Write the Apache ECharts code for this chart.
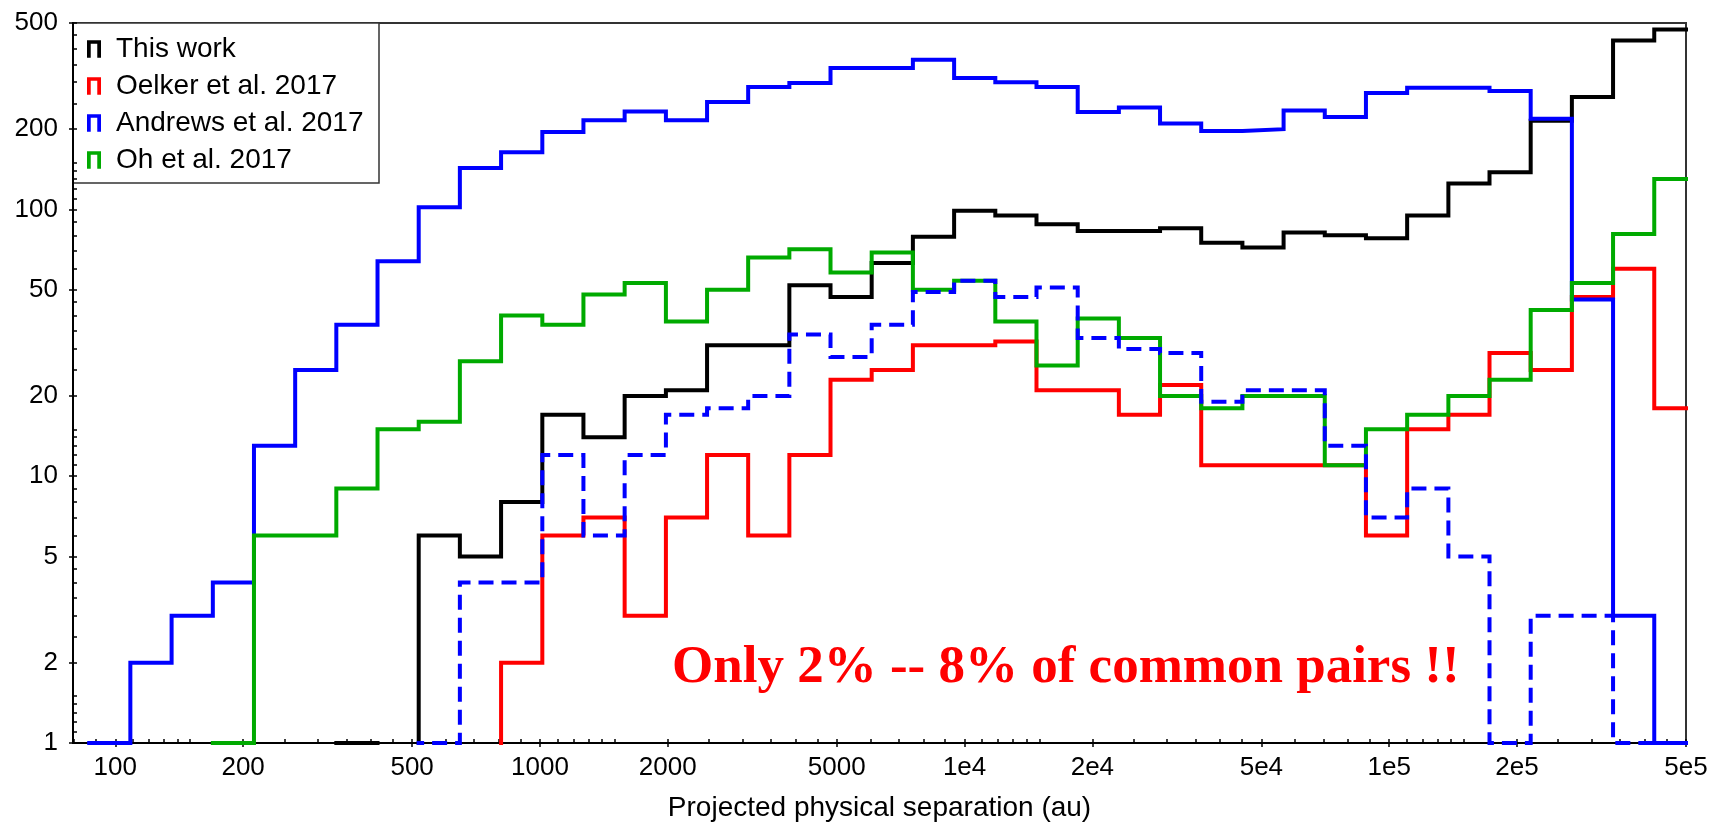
<!DOCTYPE html>
<html>
<head>
<meta charset="utf-8">
<script src="https://cdn.jsdelivr.net/npm/echarts@6/dist/echarts.min.js"></script>
<style>
html,body{margin:0;padding:0;background:#fff}
#chart{width:1713px;height:827px}
</style>
</head>
<body>
<div id="chart"></div>
<script>
// Histogram bin edges (au), log-spaced
const binEdges = [86.8, 108.5, 135.7, 169.7, 212.1, 265.2, 331.5, 414.5, 518.2, 647.8,
  810, 1013, 1266, 1583, 1980, 2475, 3093, 3867, 4834, 6043,
  7556, 9449, 11814, 14770, 18469, 23087, 28863, 36083, 45113, 56403,
  70517, 88153, 110220, 137840, 172280, 215380, 269290, 336660, 420920, 526270];

// Counts per bin
const thisWork = [0,0,0,0,0,0,1,0,6,5,8,17,14,20,21,31,31,52,47,63,79,99,95,88,83,83,85,75,72,82,80,78,95,125,138,215,264,430,473];
const oelker = [0,0,0,0,0,0,0,0,0,0,2,6,7,3,7,12,6,12,23,25,31,31,32,21,21,17,22,11,11,11,11,6,15,17,29,25,47,60,18];
const andrews = [1,2,3,4,13,25,37,64,102,143,164,195,216,233,216,253,288,298,339,339,364,311,300,288,232,241,210,197,200,235,222,273,286,286,278,219,46,3,1];
const oh = [0,0,0,1,6,6,9,15,16,27,40,37,48,53,38,50,66,71,58,69,50,54,38,26,39,33,20,18,20,20,11,15,17,20,23,42,53,81,130];
const andrewsCommon = [0,0,0,0,0,0,0,0,1,4,4,12,6,12,17,18,20,34,28,37,49,54,47,51,33,30,29,19,21,21,13,7,9,5,1,3,3,1,0];

const seriesNames = ['This work', 'Oelker et al. 2017', 'Andrews et al. 2017', 'Oh et al. 2017'];

// Axis ticks and labels
const xMajorTicks = [100, 200, 500, 1000, 2000, 5000, 1e4, 2e4, 5e4, 1e5, 2e5, 5e5];
const xMajorLabels = ['100', '200', '500', '1000', '2000', '5000', '1e4', '2e4', '5e4', '1e5', '2e5', '5e5'];
const xMinorTicks = [80, 90, 110, 120, 130, 140, 150, 250, 300, 350, 400, 450, 600, 700, 800, 900,
  1100, 1200, 1300, 1400, 1500, 2500, 3000, 3500, 4000, 4500, 6000, 7000, 8000, 9000,
  11000, 12000, 13000, 14000, 15000, 25000, 30000, 35000, 40000, 45000, 60000, 70000, 80000, 90000,
  110000, 120000, 130000, 140000, 150000, 250000, 300000, 350000, 400000, 450000];
const yMajorTicks = [1, 2, 5, 10, 20, 50, 100, 200, 500];
const yMajorLabels = ['1', '2', '5', '10', '20', '50', '100', '200', '500'];
const yMinorTicks = [1.1, 1.2, 1.3, 1.4, 1.5, 2.5, 3, 3.5, 4, 4.5, 6, 7, 8, 9,
  11, 12, 13, 14, 15, 25, 30, 35, 40, 45, 60, 70, 80, 90,
  110, 120, 130, 140, 150, 250, 300, 350, 400, 450];

const xTitle = 'Projected physical separation (au)';
const note = 'Only 2% -- 8% of common pairs !!';

const FLOOR = 0.05; // empty bins fall below the axis (clipped)
function stepPoints(counts) {
  const v = c => (c > 0 ? c : FLOOR);
  const pts = [[binEdges[0], FLOOR]];
  counts.forEach((c, i) => {
    pts.push([binEdges[i], v(c)]);
    pts.push([binEdges[i + 1], v(c)]);
  });
  pts.push([binEdges[binEdges.length - 1], FLOOR]);
  return pts;
}
function labelFor(ticks, labels, v) {
  const i = ticks.findIndex(t => Math.abs(Math.log10(t) - Math.log10(v)) < 1e-6);
  return i >= 0 ? labels[i] : '';
}

const FONT = 'Liberation Sans';
const tickStyle = { color: '#000', width: 1.5 };

function mkSeries(name, counts, color, dashed) {
  return {
    name: name,
    type: 'line',
    data: stepPoints(counts),
    symbol: 'none',
    showSymbol: false,
    clip: true,
    color: color,
    itemStyle: { color: color },
    lineStyle: { color: color, width: 4, type: dashed ? [15, 8] : 'solid', cap: 'butt', join: 'miter' },
    emphasis: { disabled: true },
    animation: false
  };
}

const chart = echarts.init(document.getElementById('chart'), null, { renderer: 'canvas' });
chart.setOption({
  animation: false,
  backgroundColor: '#fff',
  grid: { left: 73, right: 27, top: 23, bottom: 82, show: true, borderColor: '#333', borderWidth: 2, containLabel: false },
  xAxis: [
    {
      type: 'log', logBase: 10, min: 79.5, max: 5e5, position: 'bottom',
      axisLine: { show: true, lineStyle: { color: '#000', width: 2 } },
      axisTick: { show: true, customValues: xMajorTicks, inside: false, length: 4, lineStyle: tickStyle },
      axisLabel: { customValues: xMajorTicks, formatter: v => labelFor(xMajorTicks, xMajorLabels, v),
        fontFamily: FONT, fontSize: 26, color: '#000', margin: 12 },
      splitLine: { show: false }, minorTick: { show: false },
      name: xTitle, nameLocation: 'middle', nameGap: 51,
      nameTextStyle: { fontFamily: FONT, fontSize: 28, color: '#000' }
    },
    {
      type: 'log', logBase: 10, min: 79.5, max: 5e5, position: 'bottom',
      axisLine: { show: false },
      axisTick: { show: true, customValues: xMajorTicks.concat(xMinorTicks), inside: true, length: 4, lineStyle: tickStyle },
      axisLabel: { show: false }, splitLine: { show: false }
    }
  ],
  yAxis: [
    {
      type: 'log', logBase: 10, min: 1, max: 500, position: 'left',
      axisLine: { show: true, lineStyle: { color: '#000', width: 2 } },
      axisTick: { show: true, customValues: yMajorTicks, inside: false, length: 4, lineStyle: tickStyle },
      axisLabel: { customValues: yMajorTicks, formatter: v => labelFor(yMajorTicks, yMajorLabels, v),
        fontFamily: FONT, fontSize: 26, color: '#000', margin: 15 },
      splitLine: { show: false }, minorTick: { show: false }
    },
    {
      type: 'log', logBase: 10, min: 1, max: 500, position: 'left',
      axisLine: { show: false },
      axisTick: { show: true, customValues: yMajorTicks.concat(yMinorTicks), inside: true, length: 4, lineStyle: tickStyle },
      axisLabel: { show: false }, splitLine: { show: false }
    }
  ],
  legend: {
    data: seriesNames,
    orient: 'vertical', left: 87, top: 35, padding: 0,
    itemWidth: 14, itemHeight: 19, itemGap: 9,
    icon: 'path://M0,0H15V19H11V4H4V19H0Z',
    selectedMode: false,
    textStyle: { fontFamily: FONT, fontSize: 28, color: '#000', lineHeight: 28, padding: [0, 0, 0, 10] }
  },
  graphic: [
    { type: 'rect', z: 0, shape: { x: 73, y: 23, width: 306, height: 160 },
      style: { fill: '#fff', stroke: '#333', lineWidth: 1.5 } },
    { type: 'text', z: 10, x: 672, y: 668,
      style: { text: note, fill: '#ff0000', font: 'bold 53px "Liberation Serif"', align: 'left', verticalAlign: 'middle' } }
  ],
  series: [
    mkSeries(seriesNames[0], thisWork, '#000000', false),
    mkSeries(seriesNames[1], oelker, '#ff0000', false),
    mkSeries(seriesNames[2], andrews, '#0000ff', false),
    mkSeries(seriesNames[3], oh, '#00aa00', false),
    mkSeries('Andrews et al. 2017 (common)', andrewsCommon, '#0000ff', true)
  ]
});
</script>
</body>
</html>
